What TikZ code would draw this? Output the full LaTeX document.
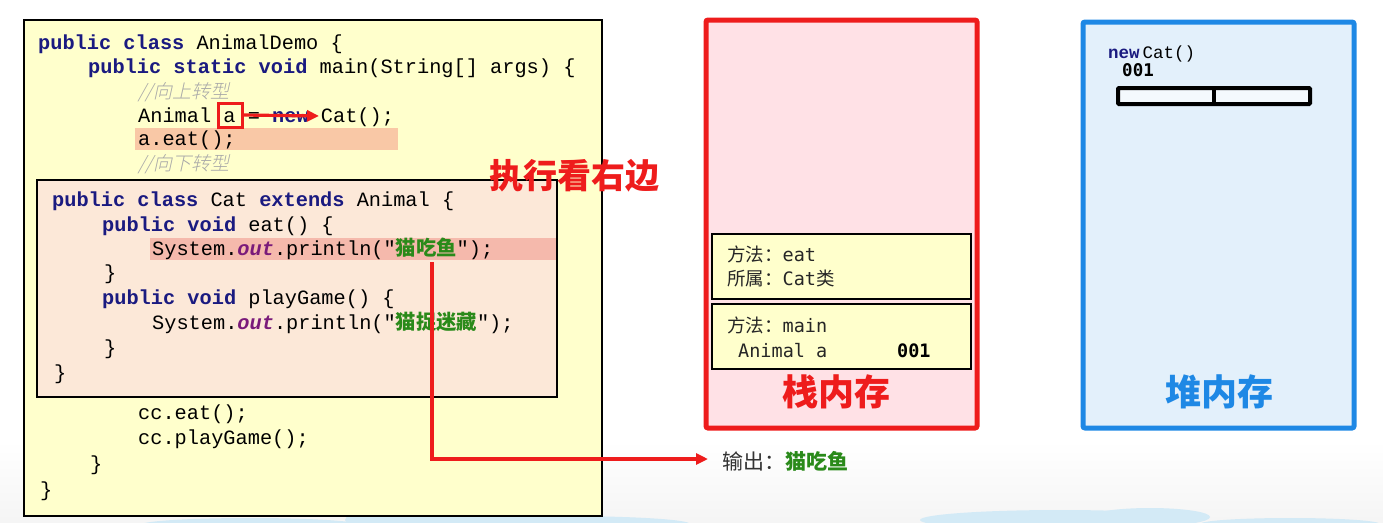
\documentclass[tikz,border=0pt]{standalone}
\usepackage{fontspec}
\setmainfont{Liberation Serif}
\newfontfamily\mono{Liberation Mono}
\newfontfamily\cjk{Noto Sans CJK SC}
\newfontfamily\cjkit[FakeSlant=0.22]{Noto Sans CJK SC Light}
\newfontfamily\smono{DejaVu Sans Mono}
\usetikzlibrary{arrows.meta}
\definecolor{codebg}{HTML}{FFFFCC}
\definecolor{catbg}{HTML}{FCE8D8}
\definecolor{hlone}{HTML}{F9C8A6}
\definecolor{hltwo}{HTML}{F5B9AC}
\definecolor{kwc}{HTML}{1A1A80}
\definecolor{outc}{HTML}{7A1A7A}
\definecolor{strc}{HTML}{2A8A1A}
\definecolor{cmtc}{HTML}{A8A8A8}
\definecolor{myred}{HTML}{EE1C1C}
\definecolor{stackbg}{HTML}{FFE1E6}
\definecolor{heapbg}{HTML}{E3F0FB}
\definecolor{heapblue}{HTML}{1E88E5}
\definecolor{cloudc}{HTML}{D3EAF6}
\newcommand{\kw}[1]{{\color{kwc}\bfseries #1}}
\newcommand{\ou}[1]{{\color{outc}\bfseries\itshape #1}}
\newcommand{\zh}[1]{{\cjk #1}}
\newcommand{\zs}[1]{{\color{strc}\cjk\bfseries #1}}
\tikzset{
  code/.style={anchor=base west, inner sep=0pt, font=\mono\fontsize{20.3}{24}\selectfont},
  cmt/.style={anchor=base west, inner sep=0pt, text=cmtc, font=\cjkit\fontsize{19}{24}\selectfont},
  smt/.style={anchor=base west, inner sep=0pt, text=black!85, font=\smono\fontsize{18.5}{22}\selectfont},
  boxn/.style={anchor=north west, inner sep=0pt, outer sep=0pt},
  redln/.style={draw=myred, line width=3.2pt},
  title/.style={font=\cjk\bfseries\fontsize{36}{40}\selectfont, inner sep=0pt}
}
\begin{document}
\begin{tikzpicture}[x=1pt,y=-1pt]
\useasboundingbox (0,0) rectangle (1383,522);
% background
\begin{scope}
\clip (0,0) rectangle (1383,522);
\shade[top color=white, bottom color=black!4] (0,440) rectangle (1383,522);
\fill[cloudc] (420,520) ellipse (75 and 14);
\fill[cloudc] (560,524) ellipse (130 and 8);
\fill[cloudc] (250,525) ellipse (110 and 7);
\fill[cloudc] (1060,520) ellipse (140 and 10);
\fill[cloudc] (1150,517) ellipse (60 and 9);
\fill[cloudc] (1290,524) ellipse (90 and 6);
\end{scope}

% code box
\node[boxn, draw=black, line width=2pt, fill=codebg, minimum width=578pt, minimum height=496pt] (code) at (24,20) {};
% highlights
\node[boxn, fill=hlone, minimum width=263pt, minimum height=22pt] (hla) at (135,128) {};
% cat box
\node[boxn, draw=black, line width=1.8pt, fill=catbg, minimum width=520pt, minimum height=217pt] (cat) at (37,180) {};
\node[boxn, fill=hltwo, minimum width=406pt, minimum height=22pt] (hlb) at (150,238) {};
\draw[black, line width=1.8pt] (cat.north west) rectangle (cat.south east);

% code lines
\node[code] (l1) at (38,49) {\kw{public class} AnimalDemo \{};
\node[code] (l2) at (88,73) {\kw{public static void} main(String[] args) \{};
\node[cmt] (l3) at (138,98) {//向上转型};
\node[code] (l4) at (138,122) {Animal a = \kw{new} Cat();};
\node[code] (l5) at (138,145) {a.eat();};
\node[cmt] (l6) at (138,170) {//向下转型};
\node[code] (c1) at (52,206) {\kw{public class} Cat \kw{extends} Animal \{};
\node[code] (c2) at (102,231) {\kw{public void} eat() \{};
\node[code] (c3) at (152,255) {System.\ou{out}.println("\zs{猫吃鱼}");};
\node[code] (c4) at (104,279) {\}};
\node[code] (c5) at (102,304) {\kw{public void} playGame() \{};
\node[code] (c6) at (152,329) {System.\ou{out}.println("\zs{猫捉迷藏}");};
\node[code] (c7) at (104,354) {\}};
\node[code] (c8) at (54,379) {\}};
\node[code] (l7) at (138,419) {cc.eat();};
\node[code] (l8) at (138,444) {cc.playGame();};
\node[code] (l9) at (90,470) {\}};
\node[code] (l10) at (40,496) {\}};

% red box around a and arrow
\node[boxn, draw=myred, line width=3pt, minimum width=24pt, minimum height=24pt] (abox) at (218,103) {};
\coordinate (atip) at (319,116);
\draw[redln, -{Triangle[length=12pt,width=11pt]}] (abox.east) -- (atip);

% 执行看右边
\node[font=\cjk\bfseries\fontsize{34}{38}\selectfont, text=myred, inner sep=0pt] (exec) at (574,176) {执行看右边};

% stack memory
\node[boxn, draw=myred, line width=5pt, fill=stackbg, rounded corners=2pt, minimum width=271pt, minimum height=408pt] (stack) at (706,20) {};
\node[boxn, draw=black, line width=1.8pt, fill=codebg, minimum width=259pt, minimum height=65pt] (f1) at (712,234) {};
\node[boxn, draw=black, line width=1.8pt, fill=codebg, minimum width=259pt, minimum height=65pt] (f2) at (712,304) {};
\node[smt] (f1a) at (727,261) {\zh{方法：}eat};
\node[smt] (f1b) at (727,285) {\zh{所属：}Cat\zh{类}};
\node[smt] (f2a) at (727,332) {\zh{方法：}main};
\node[smt] (f2b) at (738,357) {Animal a};
\node[smt, font=\smono\bfseries\fontsize{18.5}{22}\selectfont, text=black] (f2c) at (897,357) {001};
\node[title, text=myred] (stl) at (836,392) {栈内存};

% heap memory
\node[boxn, draw=heapblue, line width=5pt, fill=heapbg, rounded corners=2pt, minimum width=271pt, minimum height=406pt] (heap) at (1083,22) {};
\node[anchor=base west, inner sep=0pt, font=\mono\fontsize{17.5}{20}\selectfont] (hnew) at (1108,58) {\kw{new}\,Cat()};
\node[anchor=base west, inner sep=0pt, font=\smono\bfseries\fontsize{17.5}{20}\selectfont] (h001) at (1122,76) {001};
\node[boxn, draw=black, line width=4pt, fill=white!60!heapbg, rounded corners=1pt, minimum width=192pt, minimum height=16pt] (bar) at (1118,88) {};
\draw[black, line width=4pt] (bar.north) -- (bar.south);
\node[title, text=heapblue] (hpl) at (1219,392) {堆内存};

% output arrow
\node[anchor=west, inner sep=0pt, font=\cjk\fontsize{21}{24}\selectfont, text=black!80] (outl) at (722,461) {输出：{\color{strc}\bfseries 猫吃鱼}};
\coordinate (src) at (432,262);
\coordinate (dst) at (708,459);
\draw[redln, -{Triangle[length=12pt,width=11pt]}] (src) |- (dst);
\end{tikzpicture}
\end{document}
